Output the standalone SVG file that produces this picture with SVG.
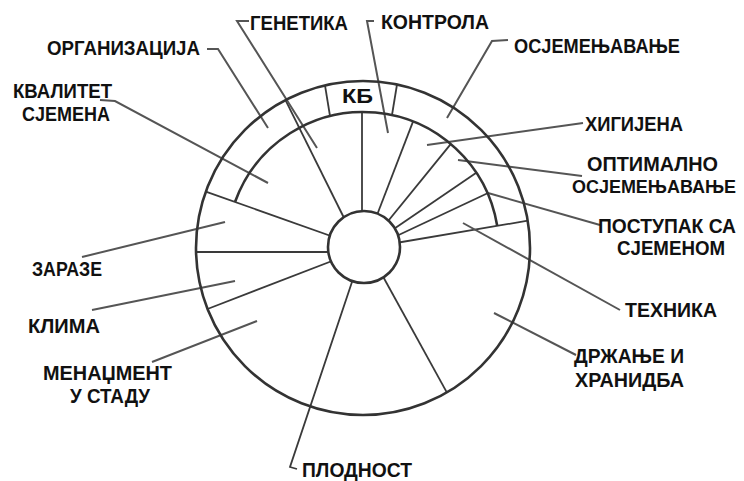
<svg xmlns="http://www.w3.org/2000/svg" width="744" height="481" viewBox="0 0 744 481">
<style>
.t{font-family:"Liberation Sans","DejaVu Sans",sans-serif;font-weight:bold;font-size:20px;fill:#111}
.c{fill:none;stroke:#333;stroke-width:2.6}
.s{fill:none;stroke:#3a3a3a;stroke-width:1.8}
.l{fill:none;stroke:#555;stroke-width:2}
</style>
<rect width="744" height="481" fill="#fff"/>
<g id="connectors">
<line class="s" x1="362" y1="230" x2="362" y2="112"/>
<line class="s" x1="372" y1="228" x2="413" y2="121.6"/>
<line class="s" x1="380" y1="231" x2="450.7" y2="144.1"/>
<line class="s" x1="385" y1="235" x2="476.3" y2="172.8"/>
<line class="s" x1="388" y1="240" x2="487.5" y2="193.2"/>
<line class="s" x1="390" y1="244" x2="527.8" y2="220.7"/>
<line class="s" x1="350" y1="230" x2="285.5" y2="100.1"/>
<line class="s" x1="345" y1="241" x2="205.8" y2="191.6"/>
<line class="s" x1="345" y1="252" x2="196" y2="252"/>
<line class="s" x1="345" y1="256" x2="207.5" y2="309"/>
<line class="s" x1="375" y1="262" x2="446.8" y2="392.4"/>
<polyline class="s" points="356,270 290,467 297,469"/>
<line class="s" x1="325" y1="85.4" x2="330" y2="116"/>
<line class="s" x1="397" y1="84.5" x2="392" y2="115"/>
<polyline class="l" points="249,21 237,21 317,148"/>
<polyline class="l" points="374,21 367,21 388,133"/>
<polyline class="l" points="207,49 218,49 268,128"/>
<polyline class="l" points="508,40 492,41 447,118"/>
<polyline class="l" points="100,100 115,101 268,183"/>
<line class="l" x1="583" y1="123" x2="427" y2="145"/>
<line class="l" x1="458" y1="160" x2="582" y2="176"/>
<line class="l" x1="488" y1="193" x2="600" y2="225"/>
<line class="l" x1="463" y1="223" x2="620" y2="310"/>
<line class="l" x1="494" y1="313" x2="576" y2="355"/>
<line class="l" x1="225" y1="222" x2="82" y2="257"/>
<line class="l" x1="235" y1="281" x2="92" y2="310"/>
<line class="l" x1="257" y1="321" x2="152" y2="362"/>
</g>
<g id="outer-circle"><circle class="c" cx="363" cy="248" r="167"/></g>
<g id="inner-arc"><path class="c" d="M235.1 201.8 A136 136 0 0 1 497.2 225.8"/></g>
<g id="center"><circle class="c" cx="364" cy="247" r="36" style="fill:#fff"/></g>
<g id="kb"><text class="t" x="342" y="103" textLength="31" lengthAdjust="spacingAndGlyphs">КБ</text></g>
<g id="genetika"><text class="t" x="250" y="30" textLength="98" lengthAdjust="spacingAndGlyphs">ГЕНЕТИКА</text></g>
<g id="kontrola"><text class="t" x="381" y="29" textLength="108" lengthAdjust="spacingAndGlyphs">КОНТРОЛА</text></g>
<g id="organizacija"><text class="t" x="47" y="55" textLength="153" lengthAdjust="spacingAndGlyphs">ОРГАНИЗАЦИЈА</text></g>
<g id="osjemenjavanje"><text class="t" x="514" y="53" textLength="166" lengthAdjust="spacingAndGlyphs">ОСЈЕМЕЊАВАЊЕ</text></g>
<g id="kvalitet"><text class="t" x="13" y="98" textLength="99" lengthAdjust="spacingAndGlyphs">КВАЛИТЕТ</text><text class="t" x="22" y="121" textLength="88" lengthAdjust="spacingAndGlyphs">СЈЕМЕНА</text></g>
<g id="higijena"><text class="t" x="585" y="131" textLength="98" lengthAdjust="spacingAndGlyphs">ХИГИЈЕНА</text></g>
<g id="optimalno"><text class="t" x="587" y="171" textLength="131" lengthAdjust="spacingAndGlyphs">ОПТИМАЛНО</text><text class="t" x="572" y="193" textLength="164" lengthAdjust="spacingAndGlyphs" style="font-size:18px">ОСЈЕМЕЊАВАЊЕ</text></g>
<g id="postupak"><text class="t" x="598" y="233" textLength="138" lengthAdjust="spacingAndGlyphs">ПОСТУПАК СА</text><text class="t" x="617" y="255" textLength="108" lengthAdjust="spacingAndGlyphs">СЈЕМЕНОМ</text></g>
<g id="tehnika"><text class="t" x="625" y="317" textLength="92" lengthAdjust="spacingAndGlyphs">ТЕХНИКА</text></g>
<g id="drzanje"><text class="t" x="574" y="363" textLength="110" lengthAdjust="spacingAndGlyphs">ДРЖАЊЕ И</text><text class="t" x="575" y="387" textLength="109" lengthAdjust="spacingAndGlyphs">ХРАНИДБА</text></g>
<g id="zaraze"><text class="t" x="32" y="276" textLength="70" lengthAdjust="spacingAndGlyphs">ЗАРАЗЕ</text></g>
<g id="klima"><text class="t" x="28" y="333" textLength="72" lengthAdjust="spacingAndGlyphs">КЛИМА</text></g>
<g id="menadzment"><text class="t" x="43" y="380" textLength="129" lengthAdjust="spacingAndGlyphs">МЕНАЏМЕНТ</text><text class="t" x="70" y="403" textLength="80" lengthAdjust="spacingAndGlyphs">У СТАДУ</text></g>
<g id="plodnost"><text class="t" x="302" y="477" textLength="110" lengthAdjust="spacingAndGlyphs">ПЛОДНОСТ</text></g>
</svg>
